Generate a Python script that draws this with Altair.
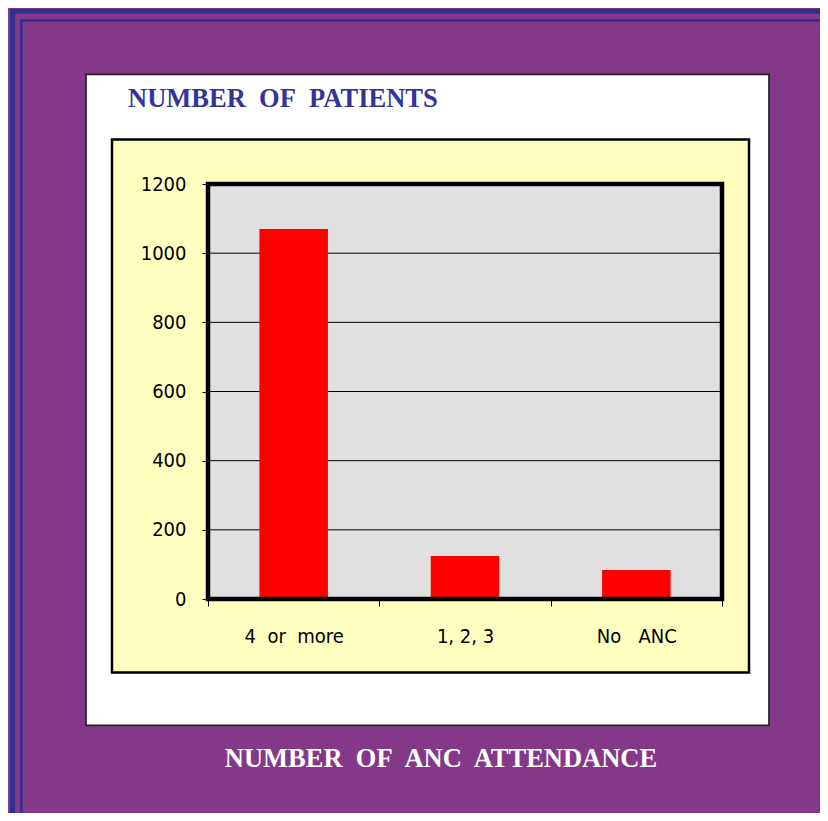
import altair as alt
import pandas as pd

NB = "\u00a0"

# ---- data ----
categories = ["4" + NB + " or" + NB + " more", "1, 2, 3", "No" + NB + " " + NB + "ANC"]
patients = [1070, 124, 84]
y_ticks = [0, 200, 400, 600, 800, 1000, 1200]
y_title = "NUMBER" + NB + " OF" + NB + " PATIENTS"
x_title = "NUMBER" + NB + " OF" + NB + " ANC" + NB + " ATTENDANCE"

# ---- layout (plot area size and offsets) ----
W, H = 514, 415
PAD_L, PAD_T = 200, 176
TOTAL_W, TOTAL_H = 812, 805

PURPLE = "#843888"
BLUE = "#2e3192"
LABEL_FONT = "DejaVu Sans Condensed, Liberation Sans, sans-serif"
TITLE_FONT = "Liberation Serif, Times New Roman, serif"

df = pd.DataFrame({"cat": categories, "n": patients})
grid_df = pd.DataFrame({"n": y_ticks[1:-1]})
one = alt.Data(values=[{"k": 1}])

y_scale = alt.Scale(domain=[y_ticks[0], y_ticks[-1]], nice=False, zero=True)
x_scale = alt.Scale(paddingInner=0, paddingOuter=0)

y_axis = alt.Axis(
    title=None,
    values=y_ticks,
    format="d",
    grid=False,
    domain=False,
    tickSize=6,
    tickColor="#000000",
    labelPadding=16,
    labelFont=LABEL_FONT,
    labelFontSize=20,
    labelColor="#000000",
    zindex=1,
)


def box(x, x2, y, y2, fill, stroke, sw):
    return alt.Chart(one).mark_rect(fill=fill, stroke=stroke, strokeWidth=sw).encode(
        x=alt.value(x), x2=alt.value(x2), y=alt.value(y), y2=alt.value(y2)
    )


outer_frame = box(-195.5, 900, -172.8, 900, "transparent", BLUE, 5)
inner_frame = box(-186.7, 900, -163.5, 900, "transparent", BLUE, 2.5)
white_box = box(-122, 561, -109.7, 541.3, "#ffffff", "#222222", 1.7)
yellow_box = box(-96, 541, -44.5, 488.5, "#ffffc0", "#000000", 2.5)
gray_area = box(0, W, 0, H, "#e0e0e0", "transparent", 0)

grid = alt.Chart(grid_df).mark_rule(color="#000000", strokeWidth=1).encode(
    y=alt.Y("n:Q", scale=y_scale, axis=y_axis)
)

bars = alt.Chart(df).mark_bar(color="#ff0000", width=alt.RelativeBandSize(0.4)).encode(
    x=alt.X(
        "cat:N",
        sort=categories,
        scale=x_scale,
        axis=alt.Axis(
            title=None,
            domain=False,
            labelAngle=0,
            tickBand="extent",
            tickSize=7,
            tickColor="#000000",
            labelPadding=20,
            labelFont=LABEL_FONT,
            labelFontSize=20,
            labelColor="#000000",
            zindex=1,
        ),
    ),
    y=alt.Y("n:Q", scale=y_scale, axis=y_axis),
)

plot_frame = box(0, W, 0, H, "transparent", "#000000", 4.5)

title_top = alt.Chart(one).mark_text(
    align="left", baseline="alphabetic", font=TITLE_FONT, fontSize=26.5,
    fontWeight="bold", color="#333399"
).encode(x=alt.value(-80), y=alt.value(-77), text=alt.value(y_title))

title_bottom = alt.Chart(one).mark_text(
    align="center", baseline="alphabetic", font=TITLE_FONT, fontSize=26.5,
    fontWeight="bold", color="#ffffff"
).encode(x=alt.value(233), y=alt.value(583), text=alt.value(x_title))

chart = (
    alt.layer(
        outer_frame, inner_frame, white_box, yellow_box, gray_area,
        grid, bars, plot_frame, title_top, title_bottom
    )
    .properties(
        width=W,
        height=H,
        autosize=alt.AutoSizeParams(type="none"),
        padding={"left": PAD_L, "top": PAD_T,
                 "right": TOTAL_W - PAD_L - W, "bottom": TOTAL_H - PAD_T - H},
        background=PURPLE,
    )
    .configure_view(strokeWidth=0)
)

chart.save("out.html", embed_options={"renderer": "svg", "actions": False})
